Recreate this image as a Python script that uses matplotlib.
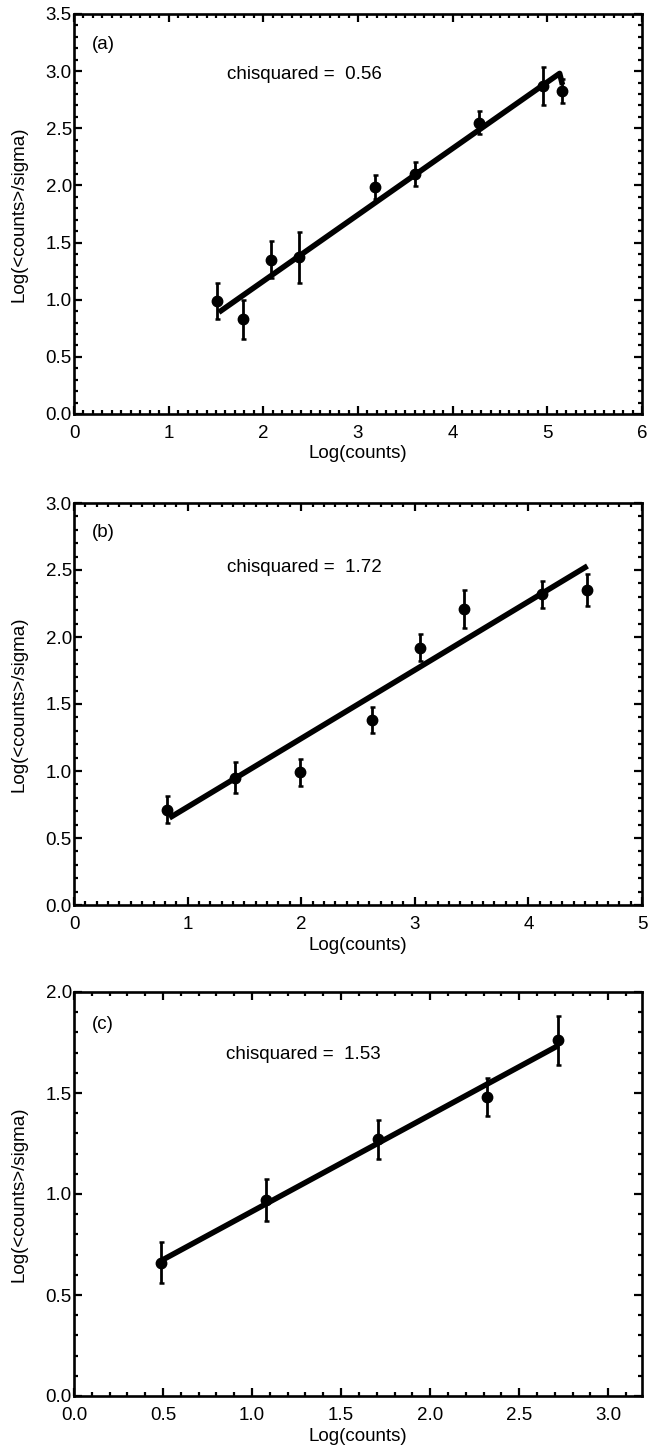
import numpy as np
import matplotlib
matplotlib.use("Agg")
import matplotlib.pyplot as plt
from matplotlib.ticker import MultipleLocator, FormatStrFormatter

plt.rcParams['font.family'] = ['Liberation Sans', 'DejaVu Sans']
plt.rcParams['font.size'] = 13.5

# panel (a)
xa = [1.51, 1.79, 2.08, 2.38, 3.18, 3.60, 4.28, 4.95, 5.16]
ya = [0.99, 0.83, 1.35, 1.37, 1.99, 2.10, 2.55, 2.87, 2.83]
ea = [0.16, 0.17, 0.16, 0.22, 0.105, 0.105, 0.10, 0.17, 0.105]
fit_xa = [1.53, 5.13, 5.16]
fit_ya = [0.89, 2.98, 2.88]
chi_a = 0.56

# panel (b)
xb = [0.82, 1.42, 1.99, 2.62, 3.05, 3.43, 4.12, 4.52]
yb = [0.71, 0.95, 0.99, 1.38, 1.92, 2.21, 2.32, 2.35]
eb = [0.10, 0.115, 0.10, 0.10, 0.10, 0.14, 0.10, 0.12]
fit_xb = [0.84, 4.52]
fit_yb = [0.65, 2.53]
chi_b = 1.72

# panel (c)
xc = [0.49, 1.08, 1.71, 2.32, 2.72]
yc = [0.66, 0.97, 1.27, 1.48, 1.76]
ec = [0.10, 0.105, 0.095, 0.095, 0.12]
fit_xc = [0.50, 2.72]
fit_yc = [0.675, 1.735]
chi_c = 1.53

panels = [
    dict(x=xa, y=ya, e=ea, fx=fit_xa, fy=fit_ya, chi=chi_a, tag='(a)',
         xlim=(0, 6), ylim=(0, 3.5), xmaj=1, xfmt='%d',
         tagpos=(0.19, 3.23), chipos=(1.62, 2.97),
         rect=[74/650, 1 - 414/1445, 568/650, 400/1445]),
    dict(x=xb, y=yb, e=eb, fx=fit_xb, fy=fit_yb, chi=chi_b, tag='(b)',
         xlim=(0, 5), ylim=(0, 3.0), xmaj=1, xfmt='%d',
         tagpos=(0.16, 2.78), chipos=(1.35, 2.52),
         rect=[74/650, 1 - 905/1445, 568/650, 402/1445]),
    dict(x=xc, y=yc, e=ec, fx=fit_xc, fy=fit_yc, chi=chi_c, tag='(c)',
         xlim=(0, 3.19), ylim=(0, 2.0), xmaj=0.5, xfmt='%.1f',
         tagpos=(0.10, 1.84), chipos=(0.854, 1.69),
         rect=[74/650, 1 - 1396/1445, 568/650, 404/1445]),
]

fig = plt.figure(figsize=(6.5, 14.45), dpi=100)

for p in panels:
    ax = fig.add_axes(p['rect'])
    ax.errorbar(p['x'], p['y'], yerr=p['e'], fmt='o', color='black',
                markersize=7.5, elinewidth=2.0, capsize=1.8, capthick=1.8)
    ax.plot(p['fx'], p['fy'], color='black', linewidth=4.0,
            solid_capstyle='butt')
    ax.set_xlim(*p['xlim'])
    ax.set_ylim(*p['ylim'])
    ax.xaxis.set_major_locator(MultipleLocator(p['xmaj']))
    ax.xaxis.set_minor_locator(MultipleLocator(0.1))
    ax.yaxis.set_major_locator(MultipleLocator(0.5))
    ax.yaxis.set_minor_locator(MultipleLocator(0.1))
    ax.xaxis.set_major_formatter(FormatStrFormatter(p['xfmt']))
    ax.yaxis.set_major_formatter(FormatStrFormatter('%.1f'))
    ax.tick_params(which='both', direction='in', top=True, right=True,
                   width=1.6, colors='black')
    ax.tick_params(which='major', length=5.5)
    ax.tick_params(which='minor', length=3)
    ax.tick_params(axis='x', which='major', pad=8)
    ax.tick_params(axis='y', which='major', pad=1.5)
    for s in ax.spines.values():
        s.set_linewidth(1.9)
    ax.set_xlabel('Log(counts)')
    ax.set_ylabel('Log(<counts>/sigma)')
    ax.xaxis.set_label_coords(0.5, -0.1)
    ax.yaxis.set_label_coords(-0.097, 0.5)
    ax.xaxis.label.set_va('center')
    ax.yaxis.label.set_va('center')
    ax.text(p['tagpos'][0], p['tagpos'][1], p['tag'], ha='left', va='center')
    ax.text(p['chipos'][0], p['chipos'][1], 'chisquared =  %.2f' % p['chi'],
            ha='left', va='center')

fig.savefig('out.png', dpi=100)
